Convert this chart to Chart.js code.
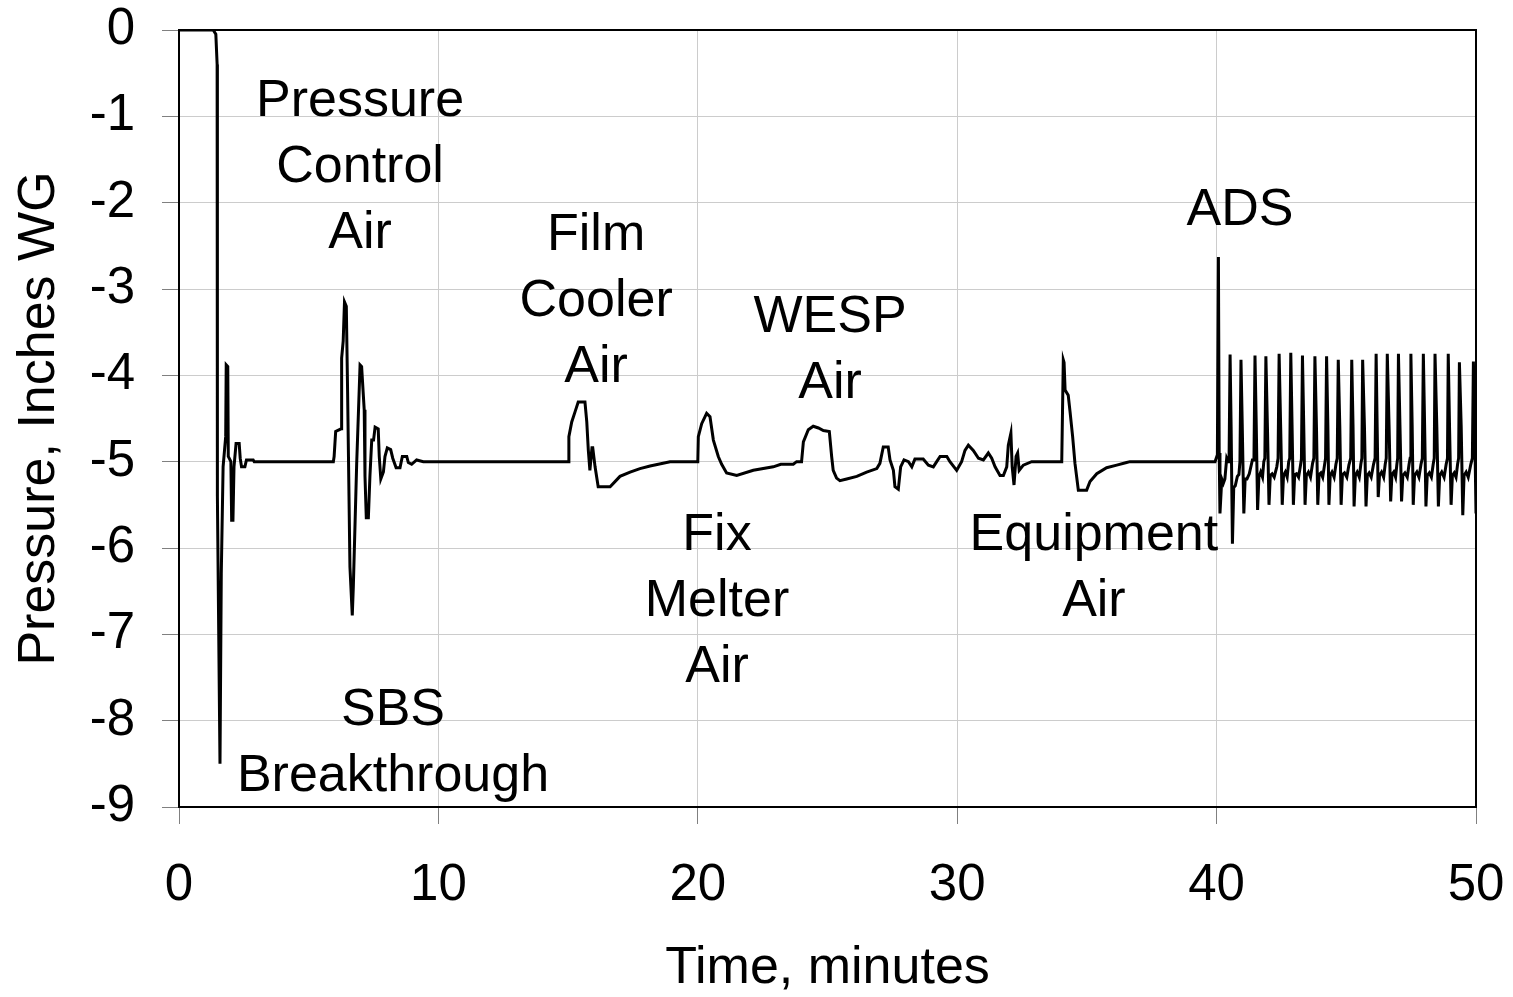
<!DOCTYPE html>
<html><head><meta charset="utf-8">
<script src="https://cdn.jsdelivr.net/npm/chart.js@4.4.1/dist/chart.umd.min.js"></script>
<style>html,body{margin:0;padding:0;background:#fff;overflow:hidden}canvas{display:block}</style>
</head><body>
<canvas id="c" width="1513" height="997"></canvas>
<script>
// ---- data (time in minutes, pressure in inches WG) ----
const startTime = [0, 1.32, 1.42, 1.47, 1.48, 1.58, 1.63, 1.70, 1.80, 1.82, 1.88, 1.90, 2.00, 2.03, 2.08, 2.12, 2.20, 2.32, 2.36, 2.41, 2.54, 2.60, 2.86, 2.90];
const startPressure = [0, 0, -0.05, -0.4, -5.4, -8.5, -6.3, -5.06, -4.71, -3.88, -3.9, -4.94, -5.0, -5.68, -5.68, -5.06, -4.79, -4.79, -4.96, -5.06, -5.06, -4.98, -4.98, -5.0];

const pcaTime = [5.95, 5.98, 6.04, 6.25, 6.27, 6.33, 6.38, 6.45, 6.50, 6.59, 6.68, 6.72, 6.85, 6.98, 7.04, 7.14, 7.17, 7.22, 7.30, 7.36, 7.43, 7.50, 7.56, 7.68, 7.72, 7.78, 7.88, 7.94, 8.03, 8.16, 8.24, 8.37, 8.52, 8.61, 8.78, 8.84, 8.97, 9.16, 9.42];
const pcaPressure = [-5.0, -4.94, -4.65, -4.62, -3.8, -3.6, -3.15, -3.2, -4.2, -6.22, -6.78, -6.45, -5.02, -3.88, -3.9, -4.4, -5.17, -5.65, -5.65, -5.17, -4.75, -4.75, -4.6, -4.62, -4.94, -5.2, -5.12, -4.94, -4.84, -4.86, -4.96, -5.07, -5.07, -4.94, -4.94, -5.01, -5.03, -4.98, -5.0];

const filmTime = [15.01, 15.03, 15.14, 15.27, 15.39, 15.65, 15.72, 15.78, 15.84, 15.92, 15.95, 16.04, 16.16, 16.62, 17.0, 17.39, 17.77, 18.16, 18.93, 20.0];
const filmPressure = [-5.0, -4.71, -4.54, -4.42, -4.31, -4.31, -4.54, -4.87, -5.1, -4.84, -4.84, -5.06, -5.29, -5.29, -5.17, -5.12, -5.08, -5.05, -5.0, -5.0];

const fixTime = [20.02, 20.15, 20.34, 20.47, 20.6, 20.79, 20.92, 21.11, 21.5, 22.14, 22.91, 23.2, 23.68, 23.81, 24.0];
const fixPressure = [-4.71, -4.56, -4.44, -4.48, -4.75, -4.94, -5.03, -5.13, -5.16, -5.1, -5.06, -5.03, -5.03, -5.0, -5.0];

const wespTime = [24.07, 24.26, 24.45, 24.65, 24.84, 25.07, 25.16, 25.22, 25.35, 25.48, 25.74, 26.13, 26.51, 26.9, 27.02, 27.15, 27.34, 27.41, 27.54, 27.6, 27.73, 27.82, 27.95, 28.12, 28.25, 28.37, 28.69, 28.89, 29.08, 29.21, 29.34, 29.6, 29.72, 29.98, 30.17, 30.3, 30.43, 30.62, 30.82, 31.01, 31.2, 31.33, 31.46, 31.65, 31.78, 31.91, 31.97, 32.07, 32.12, 32.19, 32.27, 32.33, 32.39, 32.55, 32.87];
const wespPressure = [-4.77, -4.63, -4.59, -4.61, -4.64, -4.65, -4.94, -5.1, -5.19, -5.22, -5.2, -5.17, -5.12, -5.08, -5.02, -4.83, -4.83, -4.98, -5.1, -5.29, -5.32, -5.06, -4.98, -5.0, -5.06, -4.97, -4.97, -5.04, -5.06, -5.0, -4.94, -4.94, -5.0, -5.1, -5.0, -4.87, -4.81, -4.87, -4.96, -4.98, -4.9, -4.96, -5.06, -5.16, -5.16, -5.06, -4.81, -4.67, -5.06, -5.27, -4.94, -4.9, -5.1, -5.04, -5.0];

const equipTime = [34.03, 34.09, 34.12, 34.16, 34.28, 34.35, 34.45, 34.54, 34.67, 34.99, 35.12, 35.38, 35.76, 36.15, 36.53, 36.66];
const equipPressure = [-5.0, -3.82, -3.85, -4.17, -4.23, -4.42, -4.71, -5.02, -5.33, -5.33, -5.23, -5.14, -5.07, -5.04, -5.01, -5.0];

const adsTime = [
  39.94, 40.03, 40.07, 40.10, 40.13, 40.20, 40.26, 40.32, 40.39, 40.45, 40.48,
  40.52, 40.56, 40.61, 40.66, 40.72, 40.80, 40.86, 40.90,
  40.94, 40.99, 41.05, 41.10, 41.17, 41.26, 41.38, 41.44,
  41.48, 41.53, 41.58, 41.63, 41.70, 41.77, 41.82, 41.86,
  41.90, 41.96, 42.02, 42.07, 42.14, 42.22, 42.32, 42.37,
  42.41, 42.47, 42.53, 42.58, 42.65, 42.72, 42.78, 42.82,
  42.86, 42.91, 42.96, 43.01, 43.08, 43.16, 43.23, 43.27,
  43.31, 43.36, 43.41, 43.46, 43.54, 43.62, 43.70, 43.75,
  43.79, 43.85, 43.90, 43.95, 44.02, 44.09, 44.16, 44.20,
  44.24, 44.29, 44.33, 44.38, 44.45, 44.53, 44.60, 44.65,
  44.69, 44.75, 44.80, 44.85, 44.93, 45.02, 45.10, 45.17,
  45.21, 45.26, 45.30, 45.35, 45.42, 45.50, 45.56, 45.60,
  45.63, 45.70, 45.76, 45.81, 45.88, 45.96, 46.05, 46.11,
  46.15, 46.19, 46.23, 46.28, 46.36, 46.44, 46.50, 46.54,
  46.58, 46.65, 46.71, 46.76, 46.83, 46.90, 46.95, 46.98,
  47.01, 47.07, 47.13, 47.18, 47.26, 47.35, 47.42, 47.46,
  47.49, 47.54, 47.58, 47.63, 47.72, 47.80, 47.88, 47.93,
  47.97, 48.02, 48.07, 48.12, 48.20, 48.28, 48.35, 48.39,
  48.42, 48.49, 48.55, 48.60, 48.68, 48.77, 48.85, 48.90,
  48.93, 48.98, 49.04, 49.09, 49.16, 49.23, 49.29, 49.33,
  49.36, 49.43, 49.49, 49.54, 49.62, 49.70, 49.80, 49.86,
  49.90, 49.95, 50.00
];
const adsPressure = [
  -5.0, -4.92, -2.63, -4.9, -5.6, -5.2, -5.25, -5.2, -4.96, -5.0, -5.0,
  -3.76, -4.6, -5.95, -5.3, -5.28, -5.17, -5.15, -5.0,
  -3.82, -4.6, -5.6, -5.2, -5.2, -5.14, -4.98, -4.98,
  -3.77, -4.6, -5.56, -5.18, -5.12, -5.18, -5.0, -4.96,
  -3.78, -4.6, -5.5, -5.16, -5.14, -5.18, -5.06, -4.96,
  -3.75, -4.6, -5.5, -5.16, -5.12, -5.18, -5.0, -4.96,
  -3.74, -4.6, -5.5, -5.15, -5.14, -5.18, -5.05, -4.97,
  -3.77, -4.6, -5.5, -5.16, -5.12, -5.18, -5.02, -4.96,
  -3.78, -4.6, -5.5, -5.15, -5.13, -5.18, -5.04, -4.96,
  -3.78, -4.6, -5.5, -5.16, -5.12, -5.18, -5.03, -4.96,
  -3.82, -4.6, -5.5, -5.15, -5.13, -5.18, -5.04, -4.96,
  -3.82, -4.6, -5.52, -5.16, -5.12, -5.18, -5.03, -4.96,
  -3.82, -4.6, -5.52, -5.16, -5.13, -5.18, -5.03, -4.96,
  -3.75, -4.6, -5.41, -5.16, -5.12, -5.18, -5.03, -4.96,
  -3.75, -4.6, -5.46, -5.15, -5.12, -5.18, -5.03, -4.96,
  -3.75, -4.6, -5.46, -5.16, -5.13, -5.18, -5.03, -4.96,
  -3.75, -4.6, -5.5, -5.16, -5.12, -5.18, -5.03, -4.96,
  -3.75, -4.6, -5.52, -5.16, -5.13, -5.18, -5.03, -4.96,
  -3.75, -4.6, -5.52, -5.16, -5.12, -5.18, -5.03, -4.96,
  -3.75, -4.6, -5.5, -5.16, -5.13, -5.18, -5.03, -4.96,
  -3.85, -4.6, -5.62, -5.16, -5.12, -5.18, -5.03, -4.96,
  -3.84, -4.6, -5.6
];

// ---- axis ticks ----
const xTickValues = [0, 10, 20, 30, 40, 50];
const xTickLabels = ['0', '10', '20', '30', '40', '50'];
const yTickValues = [0, -1, -2, -3, -4, -5, -6, -7, -8, -9];
const yTickLabels = ['0', '-1', '-2', '-3', '-4', '-5', '-6', '-7', '-8', '-9'];

// ---- annotation texts and their anchor (data units, first baseline) ----
const annotationLines = [
  ['Pressure', 'Control', 'Air'],
  ['SBS', 'Breakthrough'],
  ['Film', 'Cooler', 'Air'],
  ['WESP', 'Air'],
  ['Fix', 'Melter', 'Air'],
  ['Equipment', 'Air'],
  ['ADS']
];
const annotationX = [6.98, 8.25, 16.08, 25.1, 20.74, 35.27, 40.9];
const annotationY = [-1.0, -8.05, -2.55, -3.5, -6.02, -6.02, -2.26];

// ---- build series ----
const segments = [
  [startTime, startPressure], [pcaTime, pcaPressure], [filmTime, filmPressure],
  [fixTime, fixPressure], [wespTime, wespPressure], [equipTime, equipPressure],
  [adsTime, adsPressure]
];
const points = [];
segments.forEach(([t, p]) => {
  const n = Math.min(t.length, p.length);
  for (let i = 0; i < n; i++) points.push({x: t[i], y: p[i]});
});

const FONT = '"Liberation Sans", Arial, Helvetica, sans-serif';

const framePlugin = {
  id: 'frame',
  beforeDatasetsDraw(chart) {
    const {ctx, chartArea: a} = chart;
    ctx.save();
    ctx.strokeStyle = '#000';
    ctx.lineWidth = 2;
    ctx.strokeRect(a.left, a.top, a.right - a.left, a.bottom - a.top);
    ctx.restore();
  }
};

const labelPlugin = {
  id: 'labels',
  afterDatasetsDraw(chart) {
    const {ctx, scales: {x, y}} = chart;
    ctx.save();
    ctx.fillStyle = '#000';
    ctx.font = '52px ' + FONT;
    ctx.textAlign = 'center';
    ctx.textBaseline = 'alphabetic';
    annotationLines.forEach((lines, i) => {
      const px = x.getPixelForValue(annotationX[i]);
      const py = y.getPixelForValue(annotationY[i]);
      lines.forEach((s, j) => ctx.fillText(s, px, py + j * 66));
    });
    ctx.restore();
  }
};

new Chart(document.getElementById('c').getContext('2d'), {
  type: 'scatter',
  data: {
    datasets: [{
      data: points,
      showLine: true,
      borderColor: '#000',
      borderWidth: 3,
      pointRadius: 0,
      pointHoverRadius: 0,
      fill: false,
      tension: 0
    }]
  },
  options: {
    responsive: false,
    animation: false,
    devicePixelRatio: 1,
    layout: {padding: {left: 0, top: 30, right: 37, bottom: 0}},
    plugins: {legend: {display: false}, tooltip: {enabled: false}},
    scales: {
      x: {
        type: 'linear', min: 0, max: 50,
        afterBuildTicks: s => { s.ticks = xTickValues.map(v => ({value: v})); },
        afterFit: s => { s.height = 190; s.paddingLeft = 0; s.paddingRight = 0; },
        ticks: {
          font: {family: FONT, size: 51}, color: '#000', padding: 31, maxRotation: 0,
          callback: (v) => xTickLabels[xTickValues.indexOf(v)]
        },
        grid: {color: '#cccccc', lineWidth: 1, tickLength: 17, tickColor: '#808080', drawTicks: true},
        border: {display: true, color: '#000', width: 2},
        title: {display: true, text: 'Time, minutes', color: '#000',
                font: {family: FONT, size: 52, lineHeight: 1}, padding: {top: 0, bottom: 2}}
      },
      y: {
        type: 'linear', min: -9, max: 0,
        afterBuildTicks: s => { s.ticks = yTickValues.map(v => ({value: v})); },
        afterFit: s => { s.width = 179; s.paddingTop = 0; s.paddingBottom = 0; },
        ticks: {
          font: {family: FONT, size: 51}, color: '#000', padding: 27,
          callback: (v) => yTickLabels[yTickValues.indexOf(v)]
        },
        grid: {color: '#cccccc', lineWidth: 1, tickLength: 17, tickColor: '#808080', drawTicks: true},
        border: {display: true, color: '#000', width: 2},
        title: {display: true, text: 'Pressure, Inches WG', color: '#000',
                font: {family: FONT, size: 52, lineHeight: 1}, padding: {top: 14, bottom: 0}}
      }
    }
  },
  plugins: [framePlugin, labelPlugin]
});
</script>
</body></html>
